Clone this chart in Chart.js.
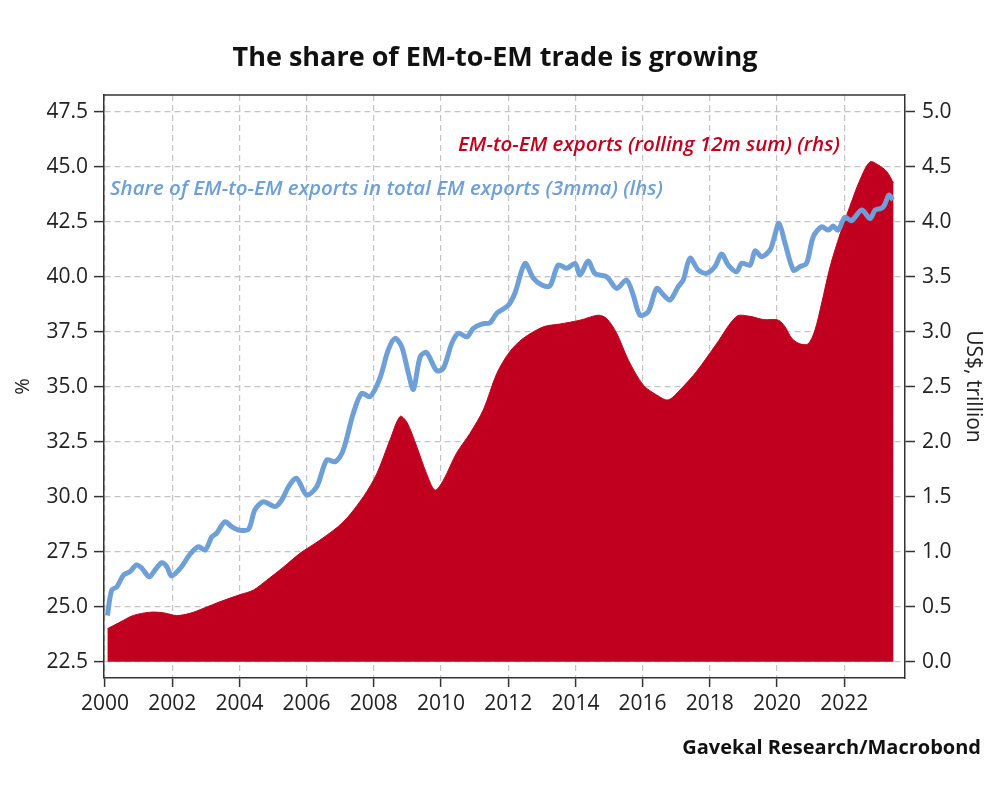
<!DOCTYPE html>
<html>
<head>
<meta charset="utf-8">
<script src="https://cdn.jsdelivr.net/npm/chart.js@4.4.0/dist/chart.umd.min.js"></script>
<style>
  html, body { margin: 0; background: #fff; }
  canvas { display: block; }
</style>
</head>
<body>
<canvas id="myChart" width="1000" height="800"></canvas>
<script>
// Share of EM-to-EM exports in total EM exports, 3mma (%), left axis
const shareDates = [
  2000.07, 2000.20, 2000.35, 2000.55, 2000.74, 2000.94, 2001.09, 2001.32, 2001.49, 2001.69,
  2001.84, 2001.98, 2002.28, 2002.51, 2002.78, 2002.98, 2003.18, 2003.32, 2003.57, 2003.77,
  2003.97, 2004.27, 2004.46, 2004.71, 2005.06, 2005.26, 2005.46, 2005.70, 2006.00, 2006.30,
  2006.60, 2006.85, 2007.09, 2007.39, 2007.64, 2007.89, 2008.18, 2008.43, 2008.63, 2008.83,
  2009.03, 2009.18, 2009.38, 2009.57, 2009.87, 2010.07, 2010.32, 2010.52, 2010.77, 2010.96,
  2011.21, 2011.46, 2011.66, 2012.00, 2012.20, 2012.50, 2012.75, 2013.00, 2013.24, 2013.49,
  2013.74, 2013.99, 2014.14, 2014.38, 2014.58, 2014.93, 2015.23, 2015.52, 2015.72, 2015.92,
  2016.17, 2016.42, 2016.62, 2016.82, 2017.06, 2017.21, 2017.41, 2017.66, 2017.90, 2018.15,
  2018.35, 2018.55, 2018.80, 2018.95, 2019.20, 2019.35, 2019.54, 2019.79, 2019.91, 2020.06,
  2020.24, 2020.49, 2020.68, 2020.88, 2021.08, 2021.33, 2021.53, 2021.67, 2021.82, 2022.02,
  2022.22, 2022.52, 2022.77, 2022.92, 2023.11, 2023.20, 2023.33, 2023.45
];
const shareValues = [
  24.60, 25.76, 25.90, 26.44, 26.59, 26.90, 26.76, 26.36, 26.67, 27.00,
  26.82, 26.40, 26.82, 27.35, 27.73, 27.58, 28.18, 28.34, 28.86, 28.64,
  28.49, 28.52, 29.40, 29.77, 29.55, 29.85, 30.45, 30.84, 30.08, 30.45,
  31.67, 31.59, 32.12, 33.79, 34.70, 34.55, 35.38, 36.67, 37.20, 36.82,
  35.61, 34.88, 36.36, 36.55, 35.73, 35.84, 36.97, 37.43, 37.27, 37.65,
  37.85, 37.91, 38.34, 38.70, 39.25, 40.60, 39.93, 39.62, 39.58, 40.53,
  40.38, 40.60, 40.08, 40.71, 40.15, 40.00, 39.47, 39.85, 39.17, 38.26,
  38.41, 39.47, 39.17, 38.94, 39.55, 39.85, 40.84, 40.30, 40.15, 40.45,
  41.03, 40.53, 40.23, 40.61, 40.53, 41.18, 40.91, 41.21, 41.74, 42.43,
  41.52, 40.30, 40.45, 40.61, 41.82, 42.27, 42.12, 42.30, 42.12, 42.70,
  42.55, 43.03, 42.65, 43.03, 43.11, 43.26, 43.71, 43.49
];

// EM-to-EM exports, rolling 12m sum (US$ trillion), right axis
const exportDates = [
  2000.07, 2000.45, 2000.84, 2001.34, 2001.74, 2002.13, 2002.53, 2002.93, 2003.42, 2004.02,
  2004.41, 2004.81, 2005.31, 2005.80, 2006.40, 2007.09, 2007.69, 2008.09, 2008.48, 2008.78,
  2008.98, 2009.28, 2009.57, 2009.82, 2010.07, 2010.46, 2010.86, 2011.26, 2011.66, 2012.05,
  2012.45, 2013.05, 2013.54, 2014.14, 2014.68, 2014.93, 2015.23, 2015.58, 2016.02, 2016.42,
  2016.76, 2017.11, 2017.61, 2018.20, 2018.80, 2019.20, 2019.60, 2020.04, 2020.24, 2020.44,
  2020.68, 2020.93, 2021.13, 2021.33, 2021.58, 2021.88, 2022.17, 2022.47, 2022.77, 2023.02,
  2023.27, 2023.47
];
const exportValues = [
  0.300, 0.360, 0.420, 0.450, 0.445, 0.420, 0.440, 0.485, 0.545, 0.610,
  0.650, 0.740, 0.860, 0.985, 1.106, 1.270, 1.500, 1.710, 2.015, 2.230,
  2.180, 1.955, 1.710, 1.560, 1.650, 1.895, 2.075, 2.290, 2.620, 2.820,
  2.940, 3.045, 3.070, 3.105, 3.150, 3.120, 2.985, 2.740, 2.515, 2.425,
  2.380, 2.470, 2.640, 2.890, 3.140, 3.140, 3.110, 3.105, 3.045, 2.940,
  2.890, 2.890, 3.015, 3.260, 3.590, 3.890, 4.140, 4.380, 4.545, 4.515,
  4.455, 4.350
];

const yearTicks = [2000, 2002, 2004, 2006, 2008, 2010, 2012, 2014, 2016, 2018, 2020, 2022];
const leftTicks = [22.5, 25.0, 27.5, 30.0, 32.5, 35.0, 37.5, 40.0, 42.5, 45.0, 47.5];
const rightTicks = [0.0, 0.5, 1.0, 1.5, 2.0, 2.5, 3.0, 3.5, 4.0, 4.5, 5.0];

const chartTitle = 'The share of EM-to-EM trade is growing';
const sourceText = 'Gavekal Research/Macrobond';
const exportLabel = 'EM-to-EM exports (rolling 12m sum) (rhs)';
const shareLabel = 'Share of EM-to-EM exports in total EM exports (3mma) (lhs)';

const RED = '#c0001e';
const BLUE = '#6e9fd6';
const GRID = '#c4c4c4';
const AXIS = '#333333';
const FONT = '"Open Sans", "Noto Sans", sans-serif';

const toPoints = (xs, ys) => xs.map((x, i) => ({ x: x, y: ys[i] }));

// title, source, in-plot labels and the top edge of the frame
const textPlugin = {
    id: 'textPlugin',
    afterDraw(chart) {
        const { ctx, chartArea } = chart;
        ctx.save();
        ctx.strokeStyle = AXIS;
        ctx.lineWidth = 1.5;
        ctx.beginPath();
        ctx.moveTo(chartArea.left, chartArea.top);
        ctx.lineTo(chartArea.right, chartArea.top);
        ctx.stroke();

        ctx.textBaseline = 'middle';
        ctx.fillStyle = '#111';
        ctx.textAlign = 'center';
        ctx.font = 'bold 27px ' + FONT;
        ctx.fillText(chartTitle, 495, 58);

        ctx.textAlign = 'right';
        ctx.font = 'bold 20px ' + FONT;
        ctx.fillText(sourceText, 981, 748);

        ctx.textAlign = 'left';
        ctx.font = 'italic 600 20.5px ' + FONT;
        ctx.fillStyle = RED;
        ctx.fillText(exportLabel, 458, 145);
        ctx.fillStyle = BLUE;
        ctx.fillText(shareLabel, 110, 189);
        ctx.restore();
    }
};

const tickFont = { family: FONT, size: 21 };

const ctx = document.getElementById('myChart').getContext('2d');
let myChart = new Chart(ctx, {
    type: 'line',
    data: {
        datasets: [{
            label: shareLabel,
            data: toPoints(shareDates, shareValues),
            yAxisID: 'y',
            borderColor: BLUE,
            borderWidth: 5,
            pointRadius: 0,
            tension: 0.3,
            fill: false,
            order: 0
        }, {
            label: exportLabel,
            data: toPoints(exportDates, exportValues),
            yAxisID: 'y2',
            borderColor: RED,
            backgroundColor: RED,
            borderWidth: 1,
            pointRadius: 0,
            tension: 0.3,
            fill: 'origin',
            order: 1
        }]
    },
    options: {
        responsive: false,
        animation: false,
        layout: { padding: { top: 95, left: 0, right: 0, bottom: 0 } },
        plugins: {
            legend: { display: false },
            tooltip: { enabled: false }
        },
        scales: {
            x: {
                type: 'linear',
                min: 1999.97,
                max: 2023.81,
                afterBuildTicks: scale => { scale.ticks = yearTicks.map(v => ({ value: v })); },
                afterFit: scale => { scale.height = 122; },
                ticks: {
                    color: '#222',
                    font: tickFont,
                    padding: 4,
                    maxRotation: 0,
                    callback: value => String(value)
                },
                grid: {
                    color: GRID,
                    lineWidth: 1.2,
                    tickColor: AXIS,
                    tickLength: 9,
                    tickWidth: 1.5
                },
                border: { color: AXIS, width: 1.5, dash: [6, 4] }
            },
            y: {
                position: 'left',
                min: 21.76,
                max: 48.26,
                afterBuildTicks: scale => { scale.ticks = leftTicks.map(v => ({ value: v })); },
                afterFit: scale => { scale.width = 104; },
                ticks: {
                    color: '#222',
                    font: tickFont,
                    padding: 6,
                    callback: value => value.toFixed(1)
                },
                grid: {
                    color: GRID,
                    lineWidth: 1.2,
                    tickColor: AXIS,
                    tickLength: 10,
                    tickWidth: 1.5
                },
                border: { color: AXIS, width: 1.5, dash: [6, 4] },
                title: {
                    display: true,
                    text: '%',
                    color: '#222',
                    font: { family: FONT, size: 20 },
                    padding: { top: 11 }
                }
            },
            y2: {
                position: 'right',
                min: -0.148,
                max: 5.152,
                afterBuildTicks: scale => { scale.ticks = rightTicks.map(v => ({ value: v })); },
                afterFit: scale => { scale.width = 95; },
                ticks: {
                    color: '#222',
                    font: tickFont,
                    padding: 7,
                    callback: value => value.toFixed(1)
                },
                grid: {
                    drawOnChartArea: false,
                    tickColor: AXIS,
                    tickLength: 10,
                    tickWidth: 1.5
                },
                border: { color: AXIS, width: 1.5 },
                title: {
                    display: true,
                    text: 'US$, trillion',
                    color: '#222',
                    font: { family: FONT, size: 21 },
                    padding: { top: 14 }
                }
            }
        }
    },
    plugins: [textPlugin]
});
</script>
</body>
</html>
